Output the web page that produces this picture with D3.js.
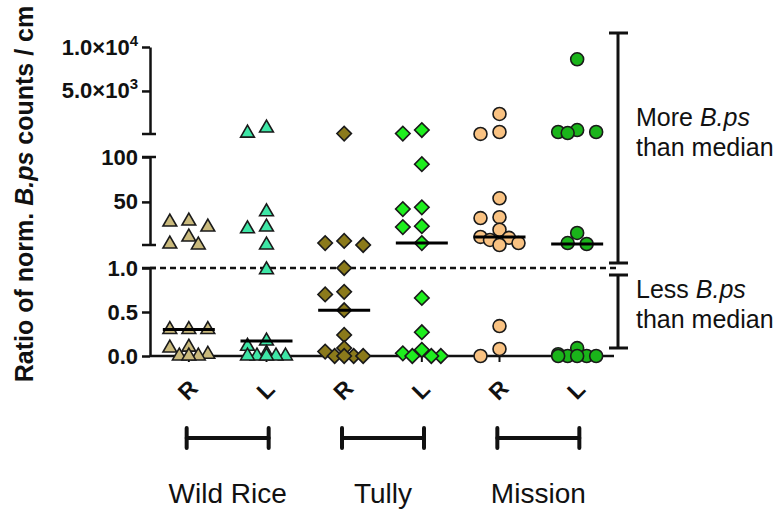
<!DOCTYPE html>
<html>
<head>
<meta charset="utf-8">
<script src="https://cdn.jsdelivr.net/npm/d3@7"></script>
<style>
  body { margin: 0; background: #fff; }
  svg { display: block; font-family: "Liberation Sans", Arial, sans-serif; }
</style>
</head>
<body>
<svg id="chart" width="778" height="512"></svg>
<script>
// sites, and the two sample sides per site
const sites = ["Wild Rice", "Tully", "Mission"];
const sides = ["R", "L"];

// ratio of normalised B.ps counts per sample
const wildRiceR = [28.7, 27.6, 22, 10.9, 3.1, 2, 0.30, 0.30, 0.30, 0.10, 0.09, 0.02, 0, 0, 0];
const wildRiceL = [780, 200, 39, 22, 20, 2, 0.98, 0.17, 0.11, 0.03, 0, 0, 0, 0, 0];
const tullyR = [150, 6.5, 4.2, 2, 1.0, 0.73, 0.70, 0.52, 0.24, 0.09, 0.05, 0, 0, 0, 0];
const tullyL = [555, 150, 92, 44, 42, 23, 22, 4.2, 0.66, 0.27, 0.07, 0.03, 0, 0, 0];
const missionR = [2380, 330, 110, 54, 33, 32, 19, 11, 10, 7.6, 4.2, 2, 0.34, 0.08, 0];
const missionL = [8600, 550, 330, 330, 210, 15.4, 4.2, 3.1, 0.09, 0.02, 0, 0, 0, 0, 0];
const medians = [0.30, 0.17, 0.52, 4.2, 11, 3.1];

// broken y axis: three segments
const lowDomain = [0, 1], midDomain = [2, 100], highDomain = [100, 10000];
const lowTicks = [0, 0.5, 1], midTicks = [50, 100], highTicks = [5000, 10000];

const series = [wildRiceR, wildRiceL, tullyR, tullyL, missionR, missionL];
const columnKeys = sites.flatMap(s => sides.map(d => s + " " + d));

const fills = ["#c9b97c", "#3ee6a6", "#8b7a1b", "#1eee1e", "#f9c282", "#1ab41a"];
const shapes = ["triangle", "triangle", "diamond", "diamond", "circle", "circle"];

const svg = d3.select("#chart");
const axisX = 150, plotRight = 616;

const yLow = d3.scaleLinear().domain(lowDomain).range([356, 268]);
const yMid = d3.scaleLinear().domain(midDomain).range([245, 157]);
const yHigh = d3.scaleLinear().domain(highDomain).range([134, 47]);
const yPos = v => v <= 1 ? yLow(v) : (v <= 100 ? yMid(v) : yHigh(v));

const x = d3.scaleBand().domain(columnKeys).range([axisX, plotRight]);
const cx = k => x(k) + x.bandwidth() / 2;

//---- y axis segments
function drawSegment(scale, ticks, fmt) {
    const g = svg.append("g")
        .attr("transform", `translate(${axisX},0)`)
        .call(d3.axisLeft(scale).tickValues(ticks).tickSize(8).tickPadding(4).tickSizeOuter(0).tickFormat(fmt));
    g.selectAll("path, line").attr("stroke", "#111").attr("stroke-width", 2.5);
    g.selectAll("text")
        .attr("font-family", "'Liberation Sans', Arial, sans-serif")
        .attr("font-size", 22).attr("font-weight", "bold").attr("fill", "#111");
    return g;
}
drawSegment(yLow, lowTicks, d3.format(".1f"));
drawSegment(yMid, midTicks, d3.format("d"));
drawSegment(yHigh, highTicks, () => "")
    .selectAll(".tick text").each(function(d) {
        let e = Math.floor(Math.log10(d)), t = d3.select(this);
        t.append("tspan").text((d / 10 ** e).toFixed(1) + "×10");
        t.append("tspan").attr("dy", -9).attr("font-size", 15).text(e);
    });

// end caps of each axis segment
const caps = [yHigh(highDomain[0]), yMid(midDomain[1]), yMid(midDomain[0]), yLow(lowDomain[1])];
svg.append("g").selectAll("line").data(caps).join("line")
    .attr("x1", axisX - 8).attr("x2", axisX + 6)
    .attr("y1", d => d).attr("y2", d => d)
    .attr("stroke", "#111").attr("stroke-width", 2.5);

// x axis line + column ticks
svg.append("line")
    .attr("x1", axisX).attr("x2", plotRight - 2)
    .attr("y1", yLow(0)).attr("y2", yLow(0))
    .attr("stroke", "#111").attr("stroke-width", 2.5);
svg.append("g").selectAll("line").data(columnKeys).join("line")
    .attr("x1", d => cx(d)).attr("x2", d => cx(d))
    .attr("y1", yLow(0)).attr("y2", yLow(0) + 6)
    .attr("stroke", "#111").attr("stroke-width", 2);

// median reference (ratio = 1)
svg.append("line")
    .attr("x1", axisX).attr("x2", plotRight)
    .attr("y1", yLow(1)).attr("y2", yLow(1))
    .attr("stroke", "#111").attr("stroke-width", 2.5)
    .attr("stroke-dasharray", "6,4");

//---- points, spread sideways so they don't pile up
const slotStep = 9.5, minGap = 12;
function swarm(values) {
    const slots = [0, -1, 1, -2, 2].map(k => k * slotStep);
    const placed = [];
    values.map(v => ({v: v, y: yPos(v)}))
        .sort((a, b) => a.y - b.y)
        .forEach(p => {
            let best = 0, bestD = -1;
            for (const s of slots) {
                let d = placed.length ? d3.min(placed, q => Math.hypot(q.dx - s, q.y - p.y)) : Infinity;
                if (d >= minGap) { best = s; break; }
                if (d > bestD) { bestD = d; best = s; }
            }
            p.dx = best;
            placed.push(p);
        });
    return placed;
}

const symbolFor = {
    triangle: d3.symbol(d3.symbolTriangle, 82)(),
    diamond: d3.symbol(d3.symbolSquare, 105)(),
    circle: d3.symbol(d3.symbolCircle, 132)()
};

series.forEach((vals, i) => {
    const key = columnKeys[i];
    svg.append("g").selectAll("path").data(swarm(vals)).join("path")
        .attr("d", symbolFor[shapes[i]])
        .attr("transform", d => `translate(${cx(key) + d.dx},${d.y})` + (shapes[i] === "diamond" ? " rotate(45)" : ""))
        .attr("fill", fills[i])
        .attr("stroke", "#1a1a1a")
        .attr("stroke-width", 1.6);
});

// medians
svg.append("g").selectAll("line").data(medians).join("line")
    .attr("x1", (d, i) => cx(columnKeys[i]) - 26)
    .attr("x2", (d, i) => cx(columnKeys[i]) + 26)
    .attr("y1", d => yPos(d)).attr("y2", d => yPos(d))
    .attr("stroke", "#000").attr("stroke-width", 3);

//---- category labels
svg.append("g").selectAll("text").data(columnKeys).join("text")
    .attr("transform", d => `translate(${cx(d) - 1},390) rotate(-45)`)
    .attr("text-anchor", "middle").attr("dominant-baseline", "central")
    .attr("font-size", 23).attr("font-weight", "bold").attr("fill", "#111")
    .text((d, i) => sides[i % 2]);

const siteCenter = s => (cx(s + " R") + cx(s + " L")) / 2;
const bars = svg.append("g").attr("stroke", "#111").attr("stroke-width", 4).attr("stroke-linecap", "round");
sites.forEach(s => {
    let c = siteCenter(s);
    bars.append("line").attr("x1", c - 41).attr("x2", c + 41).attr("y1", 438).attr("y2", 438);
    bars.append("line").attr("x1", c - 41).attr("x2", c - 41).attr("y1", 428).attr("y2", 448);
    bars.append("line").attr("x1", c + 41).attr("x2", c + 41).attr("y1", 428).attr("y2", 448);
});
svg.append("g").selectAll("text").data(sites).join("text")
    .attr("x", d => siteCenter(d)).attr("y", 503)
    .attr("text-anchor", "middle")
    .attr("font-size", 28).attr("fill", "#111")
    .text(d => d);

//---- y title
const title = svg.append("text")
    .attr("transform", "translate(33,194) rotate(-90)")
    .attr("text-anchor", "middle")
    .attr("font-size", 25).attr("font-weight", "bold").attr("fill", "#111");
title.append("tspan").text("Ratio of norm. ");
title.append("tspan").attr("font-style", "italic").text("B.ps");
title.append("tspan").text(" counts / cm");

//---- right-hand brackets
const bx = 618;
const brackets = [
    {top: yHigh(10000) - 14, bottom: yLow(1) - 5, lines: ["More ", "than median"], y: 126},
    {top: yLow(1) + 7, bottom: yLow(0) - 8, lines: ["Less ", "than median"], y: 298}
];
brackets.forEach(b => {
    const g = svg.append("g").attr("stroke", "#111").attr("stroke-width", 3);
    g.append("line").attr("x1", bx).attr("x2", bx).attr("y1", b.top).attr("y2", b.bottom);
    g.append("line").attr("x1", bx - 9).attr("x2", bx + 10).attr("y1", b.top).attr("y2", b.top);
    g.append("line").attr("x1", bx - 9).attr("x2", bx + 10).attr("y1", b.bottom).attr("y2", b.bottom);
    const t1 = svg.append("text").attr("x", 636).attr("y", b.y).attr("font-size", 25).attr("fill", "#111");
    t1.append("tspan").text(b.lines[0]);
    t1.append("tspan").attr("font-style", "italic").text("B.ps");
    svg.append("text").attr("x", 636).attr("y", b.y + 30).attr("font-size", 25).attr("fill", "#111").text(b.lines[1]);
});
</script>
</body>
</html>
